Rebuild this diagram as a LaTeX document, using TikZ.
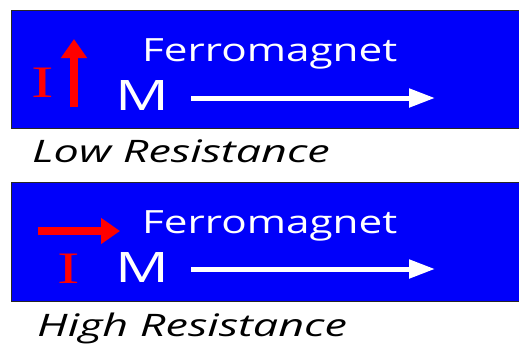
\documentclass[tikz,border=0pt]{standalone}
\usepackage{fontspec}
\setmainfont{Open Sans}
\newfontfamily\serifI{Liberation Serif}
\usetikzlibrary{arrows.meta}
\definecolor{fmblue}{RGB}{0,0,250}
\definecolor{fmred}{RGB}{255,0,0}
\tikzset{
  fmbox/.style={draw=black!85, line width=0.9pt, fill=fmblue},
  fmtitle/.style={inner sep=0pt, anchor=base west, text=white, font=\fontsize{32}{32}\selectfont},
  fmM/.style={inner sep=0pt, anchor=base west, text=white, font=\fontsize{42}{42}\selectfont},
  curI/.style={inner sep=0pt, anchor=base, text=fmred, font=\serifI\fontsize{45}{45}\selectfont},
  caption/.style={inner sep=0pt, anchor=base west, text=black, font=\itshape\fontsize{31}{31}\selectfont},
  magarrow/.style={draw=white, line width=5pt, -{Triangle[length=26pt,width=18pt]}},
  curarrow/.style={draw=fmred, line width=7.5pt, -{Triangle[length=19pt,width=25pt]}},
}
\begin{document}
\begin{tikzpicture}[x=1pt,y=-1pt]
\useasboundingbox (0,0) rectangle (519,343);
% box 1
\path[fmbox] (11,10) rectangle (530,128);
\node[fmtitle] (t1) at (142,61) {\scalebox{1.32}[1]{Ferromagnet}};
\node[fmM] (m1) at (115,110) {\scalebox{1.42}[1]{M}};
\node[curI] (i1) at (43,97) {\scalebox{1.5}[1]{I}};
\coordinate (a1s) at (191,98);
\coordinate (a1e) at (435,98);
\draw[magarrow] (a1s) -- (a1e);
\coordinate (r1s) at (74,107);
\coordinate (r1e) at (74,39);
\draw[curarrow] (r1s) -- (r1e);
\node[caption] (c1) at (32,162) {\scalebox{1.45}[1]{Low Resistance}};
% box 2
\path[fmbox] (11,182) rectangle (530,301);
\node[fmtitle] (t2) at (142,233) {\scalebox{1.32}[1]{Ferromagnet}};
\node[fmM] (m2) at (115,282) {\scalebox{1.42}[1]{M}};
\node[curI] (i2) at (69,283) {\scalebox{1.5}[1]{I}};
\coordinate (a2s) at (191,269);
\coordinate (a2e) at (435,269);
\draw[magarrow] (a2s) -- (a2e);
\coordinate (r2s) at (38,231);
\coordinate (r2e) at (120,231);
\draw[curarrow] (r2s) -- (r2e);
\node[caption] (c2) at (37,336) {\scalebox{1.45}[1]{High Resistance}};
\end{tikzpicture}
\end{document}
